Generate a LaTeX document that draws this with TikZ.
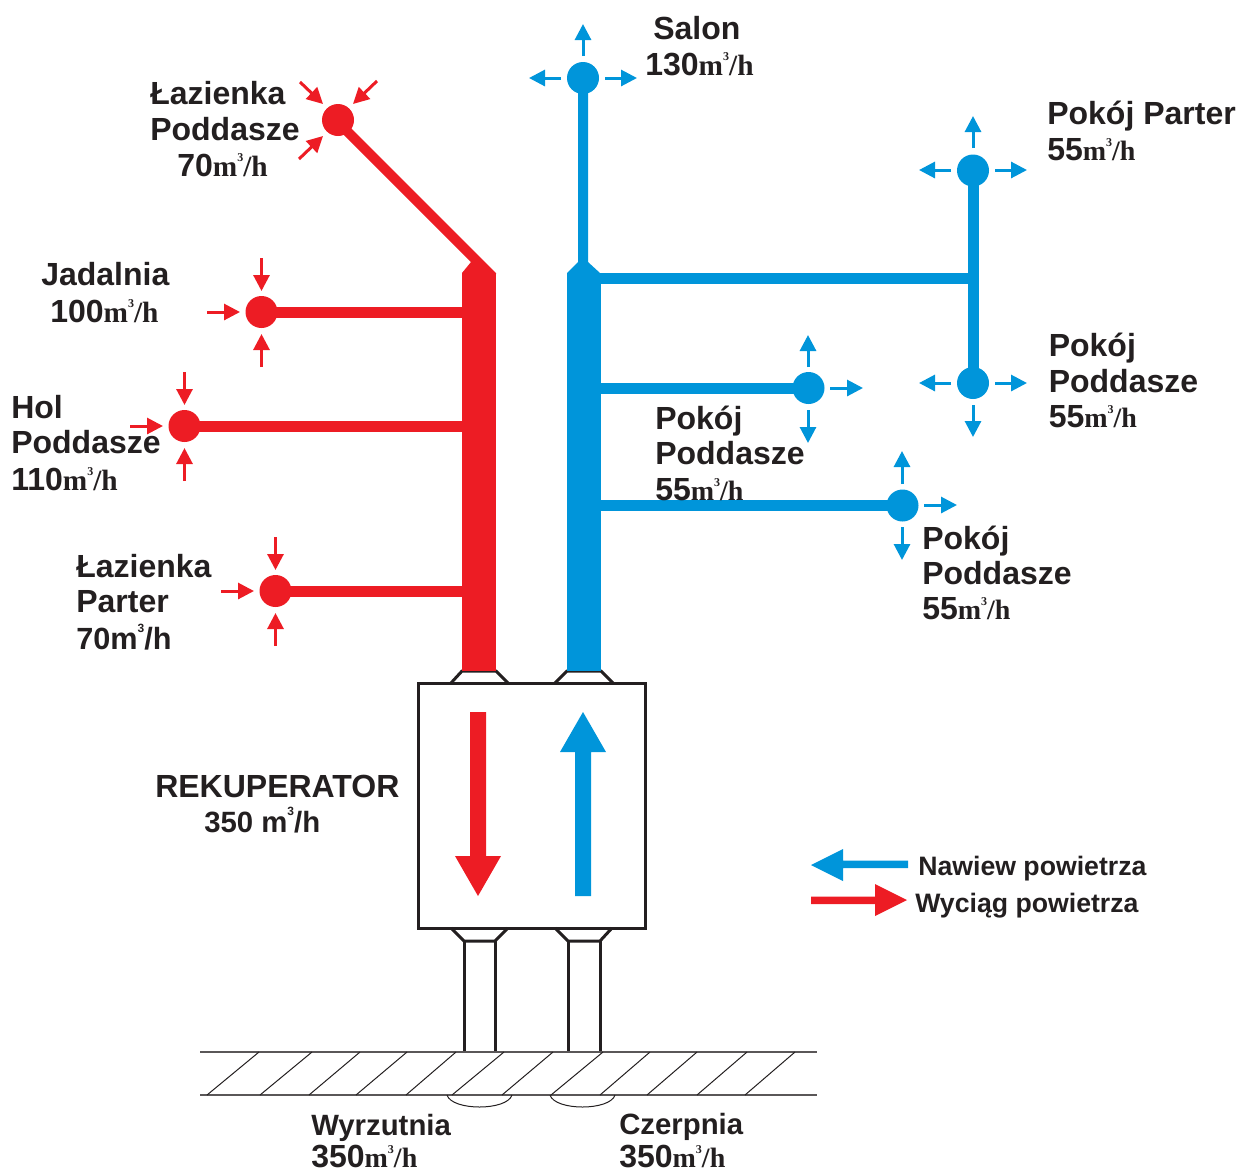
\documentclass[tikz,border=0pt]{standalone}
\usepackage{fontspec}
\setmainfont{Liberation Sans}[BoldFont={Liberation Sans Bold}]
\newfontfamily\unitfont{Liberation Serif Bold}
\usetikzlibrary{arrows.meta}
\definecolor{dred}{HTML}{ED1C24}
\definecolor{dblue}{HTML}{0095DA}
\definecolor{dink}{HTML}{231F20}
\newcommand\fl[1]{#1{\unitfont\fontsize{22}{22}\selectfont m\raisebox{1.05ex}{\fontsize{9}{9}\selectfont 3}/h}}
\newcommand\fls[1]{#1{\unitfont\fontsize{21}{21}\selectfont m\raisebox{1.05ex}{\fontsize{9}{9}\selectfont 3}/h}}
\newcounter{arrn}
\newcommand\flowarrow[3]{\stepcounter{arrn}%
  \coordinate (arr\thearrn a) at (#2);\coordinate (arr\thearrn b) at (#3);%
  \draw[smallarrow,#1] (arr\thearrn a) -- (arr\thearrn b);}
\tikzset{
  lab/.style={anchor=base west,inner sep=0pt,text=dink,font=\bfseries\fontsize{24}{24}\selectfont},
  labm/.style={anchor=base west,inner sep=0pt,text=dink,font=\bfseries\fontsize{23}{23}\selectfont},
  labs/.style={anchor=base west,inner sep=0pt,text=dink,font=\bfseries\fontsize{22}{22}\selectfont},
  leg/.style={anchor=base west,inner sep=0pt,text=dink,font=\bfseries\fontsize{20}{20}\selectfont},
  terminal/.style={circle,fill=#1,inner sep=0pt,outer sep=0pt,minimum size=24pt},
  duct/.style={rectangle,fill=#1,inner sep=0pt,outer sep=0pt,minimum width=25.5pt,minimum height=299pt},
  branch/.style={draw=#1,line width=8.25pt},
  smallarrow/.style={line width=2.25pt,-{Triangle[length=12pt,width=12pt]}},
  outline/.style={draw=dink,line width=2.25pt,line join=miter},
  thin/.style={draw=dink,line width=0.75pt},
  ground/.style={draw=dink!75,line width=1pt},
}
\begin{document}
\begin{tikzpicture}[x=0.75pt,y=-0.75pt]
\useasboundingbox (0,0) rectangle (1239,1172);
% ducts
\node[duct=dred]  (rd) at (479,472) {};
\node[duct=dblue] (bd) at (583.5,472) {};
\fill[dred] (462,274) -- (462,273) -- (471,262) -- (330,121) -- (338,115) -- (496,273) -- (496,274) -- cycle;
\fill[dblue] (567,274) -- (567,273) -- (578,262) -- (578,78) -- (588,78) -- (588,262) -- (600,273) -- (600,274) -- cycle;
% terminals
\node[terminal=dred] (lp) at (338,120) {};
\node[terminal=dred] (jad) at (261.5,312) {};
\node[terminal=dred] (hol) at (184.5,426) {};
\node[terminal=dred] (lpa) at (275.5,591) {};
\node[terminal=dblue] (sal) at (583,78) {};
\node[terminal=dblue] (pp) at (973,170.5) {};
\node[terminal=dblue] (pd) at (973,383) {};
\node[terminal=dblue] (p1) at (808.5,388) {};
\node[terminal=dblue] (p2) at (902.5,505.5) {};
% branches
\draw[branch=dred] (jad.center) -- (jad -| rd.west);
\draw[branch=dred] (hol.center) -- (hol -| rd.west);
\draw[branch=dred] (lpa.center) -- (lpa -| rd.west);
\draw[branch=dblue] (p1.center) -- (p1 -| bd.east);
\draw[branch=dblue] (p2.center) -- (p2 -| bd.east);
\coordinate (tee) at (973,278);
\draw[branch=dblue] (tee) ++(4,0) -- (tee -| bd.east);
\draw[branch=dblue] (pp.center) -- (pd.center);
% small arrows: supply
\flowarrow{dblue}{583,56}{583,24}
\flowarrow{dblue}{561,78}{529,78}
\flowarrow{dblue}{605,78}{637,78}
\flowarrow{dblue}{973,148}{973,116}
\flowarrow{dblue}{951,170}{919,170}
\flowarrow{dblue}{995,170}{1027,170}
\flowarrow{dblue}{951,383}{919,383}
\flowarrow{dblue}{995,383}{1027,383}
\flowarrow{dblue}{973,405}{973,437}
\flowarrow{dblue}{808,367}{808,335}
\flowarrow{dblue}{808,410}{808,443}
\flowarrow{dblue}{830,388}{863,388}
\flowarrow{dblue}{902,484}{902,451}
\flowarrow{dblue}{924,505}{957,505}
\flowarrow{dblue}{902,527}{902,560}
% small arrows: extract
\flowarrow{dred}{300,82}{323,104}
\flowarrow{dred}{377,81}{353,104}
\flowarrow{dred}{299,159}{323,136}
\flowarrow{dred}{261.5,258}{261.5,291}
\flowarrow{dred}{207,312}{240,312}
\flowarrow{dred}{261.5,367}{261.5,334}
\flowarrow{dred}{184.5,372}{184.5,405}
\flowarrow{dred}{130,426}{163,426}
\flowarrow{dred}{184.5,481}{184.5,448}
\flowarrow{dred}{275.5,537}{275.5,570}
\flowarrow{dred}{221,591}{254,591}
\flowarrow{dred}{275.5,646}{275.5,613}
% recuperator
\node[outline,rectangle,inner sep=0pt,outer sep=0pt,minimum width=170.25pt,minimum height=183.75pt] (rek) at (531.5,805.5) {};
\draw[outline] (451,683) -- (462,671) -- (496,671) -- (508,683);
\draw[outline] (555,683) -- (567,671) -- (601,671) -- (613,683);
\draw[outline] (451,928) -- (464,941) -- (495,941) -- (508,928);
\draw[outline] (555,928) -- (568,941) -- (600,941) -- (612,928);
\fill[dred] (462,660) rectangle (496,671);
\fill[dblue] (567,660) rectangle (601,671);
% inner arrows
\fill[dred] (470,712) -- (486,712) -- (486,856) -- (501,856) -- (478,896) -- (455,856) -- (470,856) -- cycle;
\fill[dblue] (575,896) -- (591,896) -- (591,752) -- (606,752) -- (583,712) -- (560,752) -- (575,752) -- cycle;
% outlets and ground
\draw[outline] (464,941) -- (464,1052);
\draw[outline] (495,941) -- (495,1052);
\draw[outline] (568,941) -- (568,1052);
\draw[outline] (600,941) -- (600,1052);
\draw[ground] (200,1052) -- (817,1052);
\draw[ground] (200,1095) -- (817,1095);
\foreach \a/\b in {207/259,260/312,309/360,356/407,406/456,452/504,502/553,551/603,600/650,647/697,697/747,745/795}
  \draw[thin] (\a,1095) -- (\b,1052);
\draw[thin] (447,1095) .. controls (452,1111) and (507,1111) .. (512,1095);
\draw[thin] (550,1095) .. controls (555,1111) and (610,1111) .. (615,1095);
% legend
\fill[dblue] (908,860.5) -- (843,860.5) -- (843,849) -- (811,865) -- (843,881) -- (843,868) -- (908,868) -- cycle;
\fill[dred] (811,896.5) -- (875,896.5) -- (875,884) -- (907,900) -- (875,916) -- (875,904) -- (811,904) -- cycle;
% labels
\node[lab] (t1) at (653,39) {Salon};
\node[lab] (t2) at (645,75) {\fl{130}};
\node[lab] (t3) at (150,104) {Łazienka};
\node[lab] (t4) at (150,140) {Poddasze};
\node[lab] (t5) at (177,176) {\fl{70}};
\node[lab] (t6) at (41,285) {Jadalnia};
\node[lab] (t7) at (50,322) {\fl{100}};
\node[lab] (t8) at (11,418) {Hol};
\node[lab] (t9) at (11,453) {Poddasze};
\node[lab] (t10) at (11,490) {\fl{110}};
\node[lab] (t11) at (76,577) {Łazienka};
\node[lab] (t12) at (76,612) {Parter};
\node[labm] (t13) at (76,649) {70m\raisebox{1.05ex}{\fontsize{9}{9}\selectfont 3}/h};
\node[lab] (t14) at (1047,124) {Pokój Parter};
\node[lab] (t15) at (1047,160) {\fls{55}};
\node[lab] (t16) at (1048.5,356) {Pokój};
\node[lab] (t17) at (1048.5,392) {Poddasze};
\node[lab] (t18) at (1048.5,427) {\fls{55}};
\node[lab] (t19) at (655,429) {Pokój};
\node[lab] (t20) at (655,464) {Poddasze};
\node[lab] (t21) at (655,500) {\fls{55}};
\node[lab] (t22) at (922,549) {Pokój};
\node[lab] (t23) at (922,584) {Poddasze};
\node[lab] (t24) at (922,619) {\fls{55}};
\node[lab] (t25) at (155,797) {REKUPERATOR};
\node[labs] (t26) at (204,832) {350 m\raisebox{1.05ex}{\fontsize{9}{9}\selectfont 3}/h};
\node[leg] (t27) at (918,875) {Nawiew powietrza};
\node[leg] (t28) at (915,912) {Wyciąg powietrza};
\node[labs] (t29) at (311,1135) {Wyrzutnia};
\node[lab] (t30) at (311,1167) {\fls{350}};
\node[labs] (t31) at (619,1134) {Czerpnia};
\node[lab] (t32) at (619,1167) {\fls{350}};
\end{tikzpicture}
\end{document}
